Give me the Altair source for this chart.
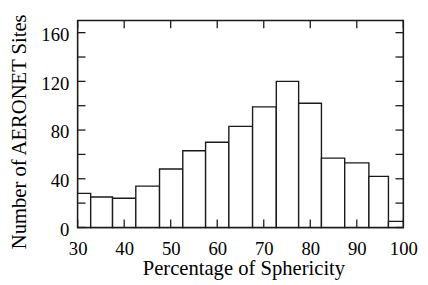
import altair as alt
import pandas as pd

# Histogram bins (percentage of sphericity) and counts of AERONET sites
bin_start = [30, 32.8, 37.5, 42.5, 47.6, 52.6, 57.5, 62.5, 67.6, 72.7, 77.5, 82.4, 87.4, 92.6, 96.8]
bin_end = [32.8, 37.5, 42.5, 47.6, 52.6, 57.5, 62.5, 67.6, 72.7, 77.5, 82.4, 87.4, 92.6, 96.8, 100]
counts = [28, 25, 24, 34, 48, 63, 70, 83, 99, 120, 102, 57, 53, 42, 5]

x_ticks = [30, 40, 50, 60, 70, 80, 90, 100]
y_major = [0, 40, 80, 120, 160]
y_minor_all = [0, 20, 40, 60, 80, 100, 120, 140, 160]

W, H = 332, 211
FONT = "Liberation Serif"
COL = "#1a1a1a"

bars_df = pd.DataFrame({"start": bin_start, "end": bin_end, "count": counts})
xt_df = pd.DataFrame({"xv": x_ticks})
yt_df = pd.DataFrame({"yv": y_minor_all})

xscale = alt.Scale(domain=[30, 100], nice=False, zero=False)
yscale = alt.Scale(domain=[0, 170], nice=False)

xaxis = alt.Axis(values=x_ticks, title="Percentage of Sphericity", grid=False,
                 domain=False, ticks=False, labelPadding=12.5,
                 labelFont=FONT, labelFontSize=19, titleFont=FONT, titleFontSize=21,
                 titleFontWeight="normal", labelColor="black", titleColor="black",
                 labelFlush=False, titleBaseline="alphabetic", titleAlign="center",
                 titleX=169, titleY=48)
yaxis = alt.Axis(values=y_major, title="Number of AERONET Sites", grid=False,
                 domain=False, ticks=False, labelPadding=9, labelOffset=2,
                 labelFont=FONT, labelFontSize=19, titleFont=FONT, titleFontSize=21,
                 titleFontWeight="normal", labelColor="black", titleColor="black",
                 labelFlush=False, titleBaseline="alphabetic", titleAlign="center",
                 titleAngle=270, titleX=-53, titleY=113)

bars = alt.Chart(bars_df).mark_rect(fill="white", stroke=COL, strokeWidth=1.4).encode(
    x=alt.X("start:Q", scale=xscale, axis=xaxis),
    x2="end:Q",
    y=alt.Y("count:Q", scale=yscale, axis=yaxis),
    y2=alt.datum(0),
)

tick_len = 8
top_ticks = alt.Chart(xt_df).mark_rule(color=COL, strokeWidth=1.3).encode(
    x=alt.X("xv:Q", scale=xscale, axis=xaxis), y=alt.value(0), y2=alt.value(tick_len))
bot_ticks = alt.Chart(xt_df).mark_rule(color=COL, strokeWidth=1.3).encode(
    x=alt.X("xv:Q", scale=xscale, axis=xaxis), y=alt.value(H - tick_len), y2=alt.value(H))
left_ticks = alt.Chart(yt_df).mark_rule(color=COL, strokeWidth=1.3).encode(
    y=alt.Y("yv:Q", scale=yscale, axis=yaxis), x=alt.value(0), x2=alt.value(tick_len))
right_ticks = alt.Chart(yt_df).mark_rule(color=COL, strokeWidth=1.3).encode(
    y=alt.Y("yv:Q", scale=yscale, axis=yaxis), x=alt.value(W - tick_len), x2=alt.value(W))

chart = alt.layer(bars, top_ticks, bot_ticks, left_ticks, right_ticks).properties(
    width=W, height=H,
    background="white",
    autosize=alt.AutoSizeParams(type="none"),
    padding={"left": 71, "top": 10, "right": 17, "bottom": 60},
).configure_view(stroke=COL, strokeWidth=1.6)

chart.save("out.html", embed_options={"renderer": "svg", "actions": False})
